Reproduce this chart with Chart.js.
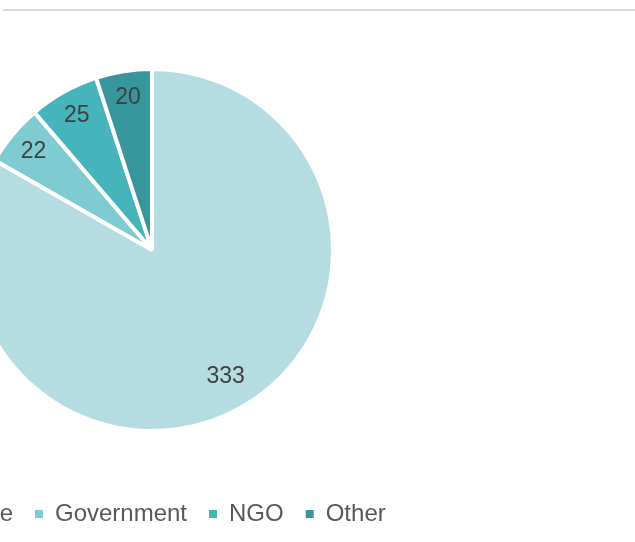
<!DOCTYPE html>
<html>
<head>
<meta charset="utf-8">
<script src="https://cdn.jsdelivr.net/npm/chart.js@4"></script>
<style>
  html, body { margin: 0; padding: 0; background: #fff; overflow: hidden; }
  body { width: 635px; height: 542px; position: relative; }
  #topline { position: absolute; left: 3px; right: 0; top: 9px; height: 2px; background: #d9d9d9; }
  #wrap { position: absolute; left: -198px; top: 0; width: 700px; height: 536px; }
</style>
</head>
<body>
<div id="topline"></div>
<div id="wrap"><canvas id="myChart"></canvas></div>
<script>
const labels = ['Private', 'Government', 'NGO', 'Other'];
const values = [333, 22, 25, 20];
const colors = ['#b5dde1', '#7ecbd1', '#45b4bb', '#36969c'];

// value labels drawn on each slice
const sliceLabels = {
  id: 'sliceLabels',
  afterDatasetsDraw(chart) {
    const ctx = chart.ctx;
    const meta = chart.getDatasetMeta(0);
    ctx.save();
    ctx.font = '23px "Liberation Sans", Arial, sans-serif';
    ctx.fillStyle = '#404040';
    ctx.textAlign = 'center';
    ctx.textBaseline = 'middle';
    meta.data.forEach((arc, i) => {
      const p = arc.getProps(['x', 'y', 'startAngle', 'endAngle', 'outerRadius'], true);
      const mid = (p.startAngle + p.endAngle) / 2;
      const r = p.outerRadius * (values[i] > 100 ? 0.81 : 0.85);
      ctx.fillText(String(values[i]), p.x + Math.cos(mid) * r, p.y + Math.sin(mid) * r);
    });
    ctx.restore();
  }
};

new Chart(document.getElementById('myChart'), {
  type: 'pie',
  data: {
    labels: labels,
    datasets: [{
      data: values,
      backgroundColor: colors,
      borderColor: '#ffffff',
      borderWidth: 4,
      hoverOffset: 0
    }]
  },
  options: {
    maintainAspectRatio: false,
    responsive: true,
    animation: false,
    radius: 181,
    layout: { padding: { top: 20, bottom: 0 } },
    plugins: {
      tooltip: { enabled: false },
      legend: {
        position: 'bottom',
        labels: {
          color: '#595959',
          font: { family: '"Liberation Sans", Arial, sans-serif', size: 24 },
          boxWidth: 8,
          boxHeight: 8,
          padding: 22,
          generateLabels(chart) {
            const items = Chart.overrides.pie.plugins.legend.labels.generateLabels(chart);
            items.forEach(it => { it.lineWidth = 0; it.strokeStyle = it.fillStyle; });
            return items;
          }
        }
      }
    }
  },
  plugins: [sliceLabels]
});
</script>
</body>
</html>
